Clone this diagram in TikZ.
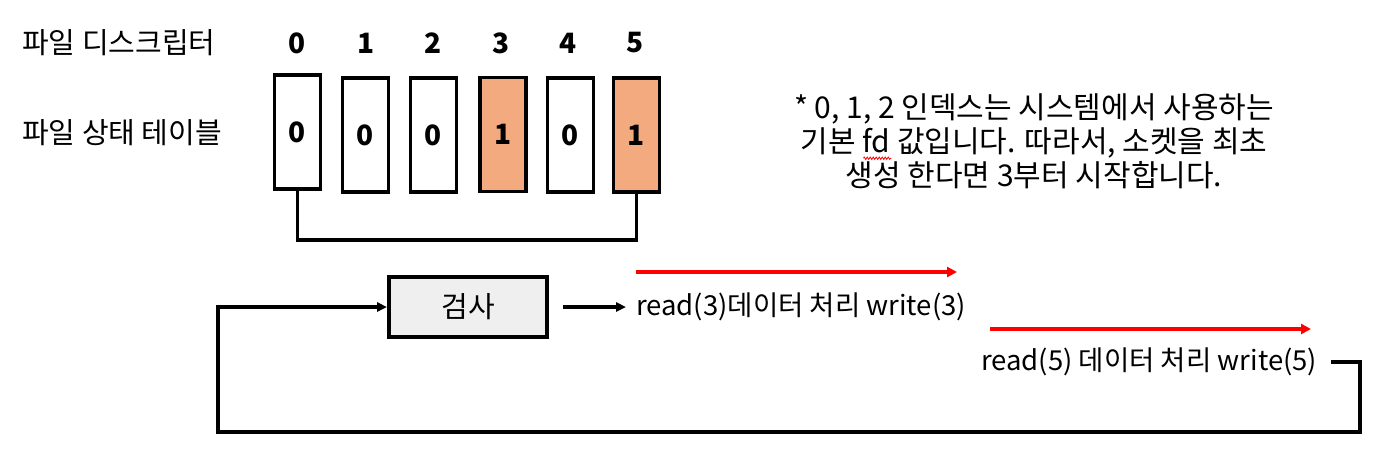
\documentclass[tikz,border=0pt]{standalone}
\usepackage{fontspec}
\setmainfont{Noto Sans CJK KR}
\usetikzlibrary{arrows.meta,decorations.pathmorphing}
\definecolor{orng}{HTML}{F2AA7E}
\definecolor{boxgray}{HTML}{EFEFEF}
\definecolor{redline}{HTML}{FF0000}
\newcommand\spellmark{\tikz[overlay,x=1pt,y=1pt]\draw[redline, line width=0.8pt, decorate, decoration={zigzag, amplitude=1.2pt, segment length=3pt}] (-27,-6) -- (1,-6);}
\begin{document}
\begin{tikzpicture}[x=1pt,y=-1pt,
  lbl/.style={font=\fontsize{29}{34}\selectfont, inner sep=0pt},
  flow/.style={font=\fontsize{27.5}{32}\selectfont, inner sep=0pt},
  idx/.style={font=\fontsize{28}{32}\selectfont\bfseries, inner sep=0pt},
  cell/.style={draw, line width=3.5pt, minimum width=46pt, minimum height=114pt, inner sep=0pt, font=\fontsize{28}{32}\selectfont\bfseries},
  hot/.style={cell, fill=orng},
  conn/.style={line width=3.5pt},
  blk/.style={line width=3.5pt, -{Triangle[length=10pt,width=9pt]}},
  redarr/.style={line width=3.5pt, redline, -{Triangle[length=10pt,width=10pt]}}]
\useasboundingbox (0,0) rectangle (1390,459);

\node[lbl, anchor=west] (fdlabel) at (22,43) {파일 디스크립터};
\node[lbl, anchor=west] (stlabel) at (22,133) {파일 상태 테이블};

\node[idx] (i0) at (297,43) {0};
\node[idx] (i1) at (366,43) {1};
\node[idx] (i2) at (433,43) {2};
\node[idx] (i3) at (501,43) {3};
\node[idx] (i4) at (568,43) {4};
\node[idx] (i5) at (635,43) {5};

\node[cell] (c0) at (297.5,132) {0};
\node[cell] (c1) at (365.5,135) {0};
\node[cell] (c2) at (433.5,135) {0};
\node[hot]  (c3) at (503,134.5) {1};
\node[cell] (c4) at (570.5,135) {0};
\node[hot]  (c5) at (636.5,135) {1};

\draw[conn] (c0.south) -- ++(0,49) -| (c5.south);

\node[lbl, align=center, font=\fontsize{30}{34}\selectfont] (note) at (1034,141)
  {* 0, 1, 2 인덱스는 시스템에서 사용하는\\기본 fd\spellmark{} 값입니다. 따라서, 소켓을 최초\\생성 한다면 3부터 시작합니다.};

\node[draw, line width=4pt, fill=boxgray, minimum width=158pt, minimum height=60pt, lbl] (chk) at (468,307) {검사};

\node[flow, anchor=west] (t3) at (636,307) {read(3)데이터 처리 write(3)};
\node[flow, anchor=west] (t5) at (981,362) {read(5) 데이터 처리 write(5)};

\coordinate (r1a) at (636,272);
\coordinate (r1b) at (957,272);
\coordinate (r2a) at (990,329);
\coordinate (r2b) at (1311,329);
\draw[redarr] (r1a) -- (r1b);
\draw[redarr] (r2a) -- (r2b);

\draw[blk] ([xshift=14pt]chk.east) -- ([xshift=-10pt]t3.west);

\coordinate (lp1) at (1360,362);
\coordinate (lp2) at (1360,432);
\coordinate (lp3) at (218,432);
\coordinate (lp4) at (218,307);
\draw[blk] ([xshift=14pt]t5.east) -- (lp1) -- (lp2) -- (lp3) -- (lp4) -- (chk.west);
\end{tikzpicture}
\end{document}
